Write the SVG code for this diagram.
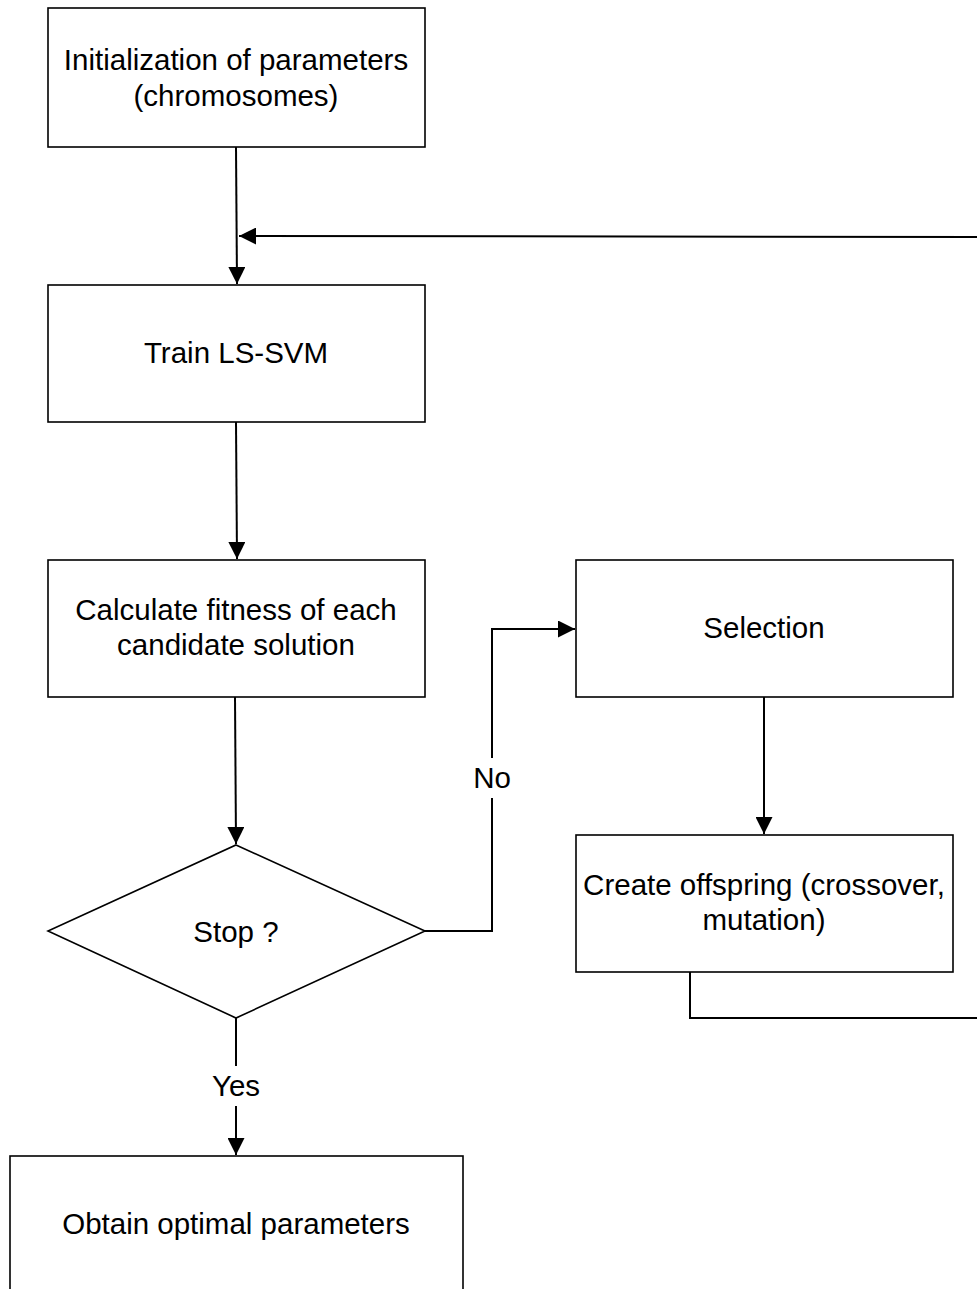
<svg xmlns="http://www.w3.org/2000/svg" width="977" height="1289" viewBox="0 0 977 1289">
<style>
.box{fill:#fff;stroke:#000;stroke-width:1.6}
.ln{fill:none;stroke:#000;stroke-width:2}
text{font-family:"Liberation Sans",Arial,sans-serif;font-size:29.5px;fill:#000;text-anchor:middle}
</style>
<defs>
<marker id="ah" markerWidth="17" markerHeight="17" refX="17" refY="8.5" orient="auto" markerUnits="userSpaceOnUse">
<path d="M0,0 L17,8.5 L0,17 Z" fill="#000"/>
</marker>
</defs>
<rect width="977" height="1289" fill="#fff"/>
<g id="connectors">
<path class="ln" d="M236,147 L237,284" marker-end="url(#ah)"/>
<path class="ln" d="M977,237 L239,236" marker-end="url(#ah)"/>
<path class="ln" d="M236,422 L237,559" marker-end="url(#ah)"/>
<path class="ln" d="M235,697 L236,844" marker-end="url(#ah)"/>
<path class="ln" d="M425,931 L492,931 L492,629 L575,629" marker-end="url(#ah)"/>
<path class="ln" d="M764,697 L764,834" marker-end="url(#ah)"/>
<path class="ln" d="M690,972 L690,1018 L977,1018"/>
<path class="ln" d="M236,1018 L236,1155" marker-end="url(#ah)"/>
<rect x="466" y="758" width="52" height="40" fill="#fff"/>
<text x="492" y="788">No</text>
<rect x="204" y="1066" width="66" height="40" fill="#fff"/>
<text x="236" y="1096">Yes</text>
</g>
<g id="init">
<rect class="box" x="48" y="8" width="377" height="139"/>
<text x="236" y="70">Initialization of parameters</text>
<text x="236" y="106">(chromosomes)</text>
</g>
<g id="train">
<rect class="box" x="48" y="285" width="377" height="137"/>
<text x="236" y="363">Train LS-SVM</text>
</g>
<g id="fitness">
<rect class="box" x="48" y="560" width="377" height="137"/>
<text x="236" y="620">Calculate fitness of each</text>
<text x="236" y="655">candidate solution</text>
</g>
<g id="stop">
<polygon class="box" points="236,845 425,931 236,1018 48,931"/>
<text x="236" y="942">Stop ?</text>
</g>
<g id="selection">
<rect class="box" x="576" y="560" width="377" height="137"/>
<text x="764" y="638">Selection</text>
</g>
<g id="offspring">
<rect class="box" x="576" y="835" width="377" height="137"/>
<text x="764" y="895">Create offspring (crossover,</text>
<text x="764" y="930">mutation)</text>
</g>
<g id="obtain">
<rect class="box" x="10" y="1156" width="453" height="150"/>
<text x="236" y="1234">Obtain optimal parameters</text>
</g>
</svg>
